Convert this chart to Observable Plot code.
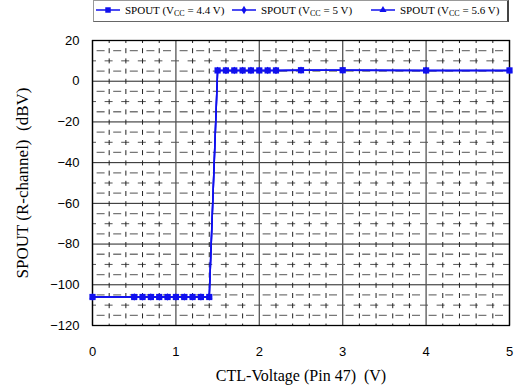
<!DOCTYPE html>
<html>
<head>
<meta charset="utf-8">
<script src="https://cdn.jsdelivr.net/npm/d3@7"></script>
<script src="https://cdn.jsdelivr.net/npm/@observablehq/plot@0.6"></script>
<style>
  body { margin: 0; background: #fff; width: 516px; height: 388px; overflow: hidden; }
  #legend {
    position: absolute; left: 93px; top: 0px; width: 416px; height: 22px;
    border: 1px solid #999; border-right: 2px solid #444; border-bottom: 1px solid #666;
    box-sizing: border-box;
    font-family: "Liberation Serif", "DejaVu Serif", serif; font-size: 11px; color: #000;
  }
  .item { display: flex; align-items: center; position: absolute; top: 3px; white-space: nowrap; }
  .item svg { margin-right: 5px; }
  sub { font-size: 8px; vertical-align: -2px; line-height: 0; }
  #chart { position: absolute; left: 0; top: 22px; }
</style>
</head>
<body>
<div id="legend"></div>
<div id="chart"></div>
<script>
// ---- data ----
const ctlVoltage = [0, 0.5, 0.6, 0.7, 0.8, 0.9, 1.0, 1.1, 1.2, 1.3, 1.4,
                    1.5, 1.6, 1.7, 1.8, 1.9, 2.0, 2.1, 2.2, 2.5, 3, 4, 5];
const spout44 = [-106, -106, -106, -106, -106, -106, -106, -106, -106, -106, -106,
                 5.3, 5.3, 5.3, 5.3, 5.3, 5.3, 5.3, 5.3, 5.4, 5.4, 5.3, 5.3];
const spout50 = [-106, -106, -106, -106, -106, -106, -106, -106, -106, -106, -106,
                 5.3, 5.3, 5.3, 5.3, 5.3, 5.3, 5.3, 5.3, 5.4, 5.4, 5.3, 5.3];
const spout56 = [-106, -106, -106, -106, -106, -106, -106, -106, -106, -106, -106,
                 5.3, 5.3, 5.3, 5.3, 5.3, 5.3, 5.3, 5.3, 5.4, 5.4, 5.3, 5.3];
const seriesNames = ["4.4", "5", "5.6"];
const xTicks = [0, 1, 2, 3, 4, 5];
const yTicks = [20, 0, -20, -40, -60, -80, -100, -120];
const xMinor = d3.range(0, 5.0001, 0.2).map(v => +v.toFixed(2)).filter(v => Math.abs(v - Math.round(v)) > 1e-6);
const yMinorA = d3.range(-120, 20.001, 5).filter(v => v % 20 !== 0 && v % 10 === 0);
const yMinorB = d3.range(-120, 20.001, 5).filter(v => v % 10 !== 0);

const blue = "#1010ee";

const rows = (vals, s) => ctlVoltage.map((x, i) => ({x, y: vals[i], s}));
const data44 = rows(spout44, seriesNames[0]);
const data50 = rows(spout50, seriesNames[1]);
const data56 = rows(spout56, seriesNames[2]);

// legend
const legend = document.getElementById("legend");
const legendX = [2, 138, 277];
seriesNames.forEach((n, i) => {
  const it = document.createElement("div");
  it.className = "item";
  it.style.left = legendX[i] + "px";
  const sym = d3.symbol(i === 0 ? d3.symbolSquare : i === 1 ? d3.symbolDiamond : d3.symbolTriangle, i === 0 ? 30 : 22)();
  it.innerHTML = `<svg width="24" height="12"><line x1="0" x2="24" y1="6" y2="6" stroke="${blue}" stroke-width="1.5"/><path d="${sym}" transform="translate(12,6)" fill="${blue}"/></svg><span>SPOUT (V<sub>CC</sub> = ${n} V)</span>`;
  legend.appendChild(it);
});

const W = 516, H = 366;
const plot = Plot.plot({
  width: W, height: H,
  marginTop: 18, marginLeft: 92, marginRight: 7, marginBottom: 63,
  style: {fontFamily: "'Liberation Sans', Arial, sans-serif", fontSize: "13px", color: "#000", background: "#fff", overflow: "visible"},
  x: {domain: [0, 5], ticks: xTicks, tickFormat: d => String(d), tickSize: 0, tickPadding: 21,
      label: "CTL-Voltage (Pin 47)  (V)", labelAnchor: "center", labelArrow: "none", labelOffset: 55},
  y: {domain: [-120, 20], ticks: yTicks, tickSize: 0, tickPadding: 13,
      label: "SPOUT (R-channel)  (dBV)", labelAnchor: "center", labelArrow: "none", labelOffset: 77},
  marks: [
    Plot.ruleY(yMinorA, {stroke: "#555", strokeWidth: 1, strokeDasharray: "8,8.6", strokeDashoffset: 4}),
    Plot.ruleY(yMinorB, {stroke: "#777", strokeWidth: 1.3, strokeDasharray: "8,8.6", strokeDashoffset: 12}),
    Plot.ruleX(xMinor, {stroke: "#222", strokeWidth: 1, strokeDasharray: "5,5.2", strokeDashoffset: 2}),
    Plot.ruleY(yTicks, {stroke: "#222", strokeWidth: 1}),
    Plot.ruleX(xTicks, {stroke: "#555", strokeWidth: 1.3}),
    Plot.frame({stroke: "#000", strokeWidth: 1.3}),
    Plot.line(data56, {x: "x", y: "y", stroke: blue, strokeWidth: 1.5}),
    Plot.dot(data56, {x: "x", y: "y", symbol: () => "triangle", fill: blue, r: 2.3}),
    Plot.line(data50, {x: "x", y: "y", stroke: blue, strokeWidth: 1.5}),
    Plot.dot(data50, {x: "x", y: "y", symbol: () => "diamond", fill: blue, r: 2.3}),
    Plot.line(data44, {x: "x", y: "y", stroke: blue, strokeWidth: 1.5}),
    Plot.dot(data44, {x: "x", y: "y", symbol: () => "square", fill: blue, r: 3.5})
  ]
});
d3.select(plot).selectAll("g[aria-label='x-axis label'] text")
  .style("font-family", "'Liberation Serif', 'DejaVu Serif', serif").style("font-size", "16px");
d3.select(plot).selectAll("g[aria-label='y-axis label'] text")
  .style("font-family", "'Liberation Serif', 'DejaVu Serif', serif").style("font-size", "17px");
document.getElementById("chart").appendChild(plot);
</script>
</body>
</html>
